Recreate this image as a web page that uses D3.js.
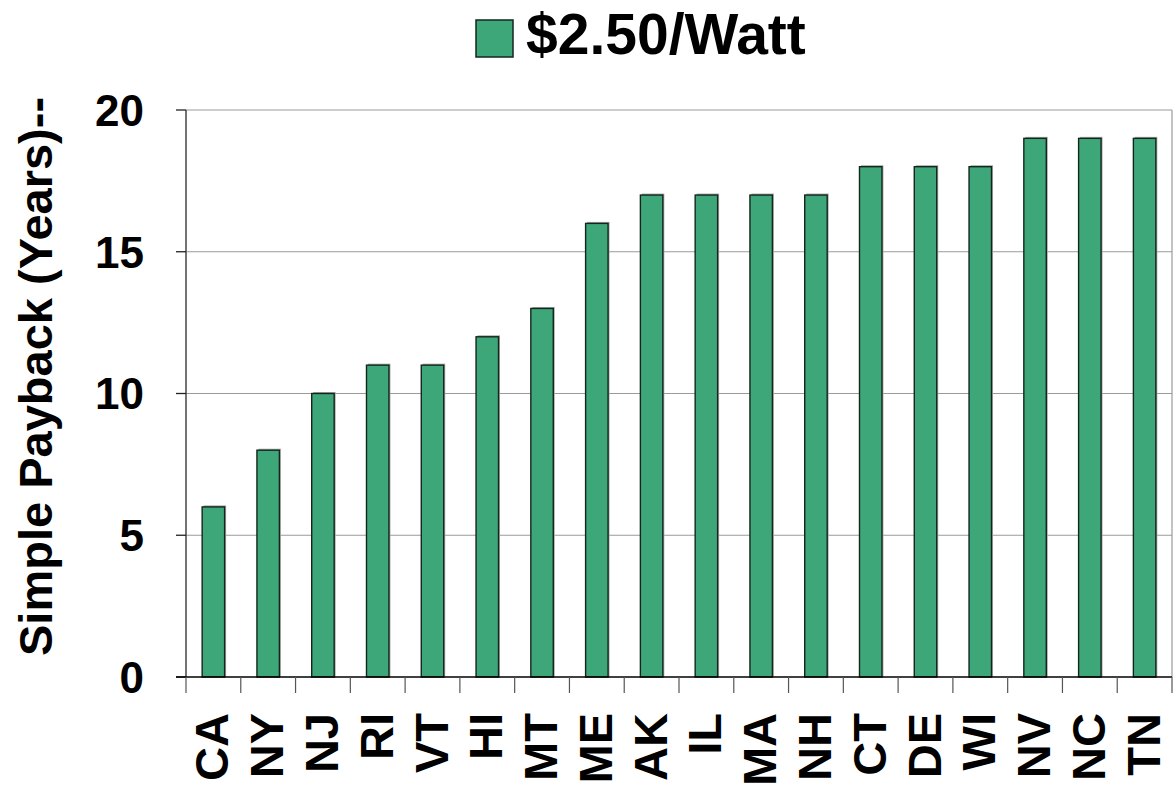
<!DOCTYPE html>
<html>
<head>
<meta charset="utf-8">
<script src="https://cdn.jsdelivr.net/npm/d3@7"></script>
<style>
  html, body { margin: 0; padding: 0; background: #fff; }
  svg { display: block; font-family: Arial, "Liberation Sans", sans-serif; font-weight: bold; }
</style>
</head>
<body>
<svg id="chart" width="1176" height="788"></svg>
<script>
const categories = ["CA","NY","NJ","RI","VT","HI","MT","ME","AK","IL","MA","NH","CT","DE","WI","NV","NC","TN"];
const paybackYears = [6, 8, 10, 11, 11, 12, 13, 16, 17, 17, 17, 17, 18, 18, 18, 19, 19, 19];
const yTicks = [0, 5, 10, 15, 20];
const seriesName = "$2.50/Watt";
const yTitle = "Simple Payback (Years)--";

(function () {
const svg = d3.select("#chart");
const pL = 186, pR = 1172, pT = 110, pB = 677;
const green = "#3EA77A", stroke = "#14261c";

const x = d3.scaleBand().domain(categories).range([pL, pR]).padding(0);
const y = d3.scaleLinear().domain([0, 20]).range([pB, pT]);

// gridlines
svg.append("g").selectAll("line").data(yTicks.filter(d => d > 0)).join("line")
  .attr("x1", pL).attr("x2", pR)
  .attr("y1", d => y(d)).attr("y2", d => y(d))
  .attr("stroke", "#9a9a9a").attr("stroke-width", 1.2);
// right border
svg.append("line").attr("x1", pR).attr("x2", pR).attr("y1", pT).attr("y2", pB)
  .attr("stroke", "#9a9a9a").attr("stroke-width", 1.2);

// bars
const bw = x.step() * 0.41;
const bars = svg.append("g");
bars.selectAll("rect.shadow").data(categories).join("rect")
  .attr("class", "shadow")
  .attr("x", d => x(d) + (x.step() - bw) / 2 + 1.5)
  .attr("y", (d, i) => y(paybackYears[i]) - 1.5)
  .attr("width", bw)
  .attr("height", (d, i) => pB - y(paybackYears[i]) + 1.5)
  .attr("fill", "#a8a8a8");
bars.selectAll("rect.bar").data(categories).join("rect")
  .attr("class", "bar")
  .attr("x", d => x(d) + (x.step() - bw) / 2)
  .attr("y", (d, i) => y(paybackYears[i]))
  .attr("width", bw)
  .attr("height", (d, i) => pB - y(paybackYears[i]))
  .attr("fill", green).attr("stroke", stroke).attr("stroke-width", 1.4);

// y axis
const yAxis = svg.append("g");
yAxis.append("line").attr("x1", pL).attr("x2", pL).attr("y1", pT).attr("y2", pB)
  .attr("stroke", "#444").attr("stroke-width", 1.5);
yAxis.selectAll("line.tick").data(yTicks).join("line").attr("class", "tick")
  .attr("x1", pL - 10).attr("x2", pL).attr("y1", d => y(d)).attr("y2", d => y(d))
  .attr("stroke", "#222").attr("stroke-width", 1.3);
yAxis.selectAll("text").data(yTicks).join("text")
  .attr("x", 144).attr("y", d => y(d)).attr("dy", "0.36em")
  .attr("text-anchor", "end").attr("font-size", 44).attr("fill", "#000")
  .text(d => d);

// x axis
const xAxis = svg.append("g");
xAxis.append("line").attr("x1", pL - 10).attr("x2", pR).attr("y1", pB).attr("y2", pB)
  .attr("stroke", "#000").attr("stroke-width", 1.5);
const boundaries = categories.map(c => x(c)).concat([pR]);
xAxis.selectAll("line.tick").data(boundaries).join("line").attr("class", "tick")
  .attr("x1", d => d).attr("x2", d => d).attr("y1", pB).attr("y2", pB + 16)
  .attr("stroke", "#555").attr("stroke-width", 1.2);
xAxis.selectAll("text").data(categories).join("text")
  .attr("transform", d => `translate(${x(d) + x.step() / 2 + 15},713) rotate(-90)`)
  .attr("text-anchor", "end").attr("font-size", 47).attr("fill", "#000")
  .text(d => d);

// y title
svg.append("text")
  .attr("transform", "translate(52,656) rotate(-90)")
  .attr("text-anchor", "start").attr("font-size", 47).attr("fill", "#000")
  .text(yTitle);

// legend
svg.append("rect").attr("x", 476).attr("y", 20).attr("width", 37).attr("height", 37)
  .attr("fill", green).attr("stroke", stroke).attr("stroke-width", 1.5);
svg.append("text").attr("x", 526).attr("y", 54)
  .attr("font-size", 57).attr("fill", "#000").text(seriesName);
})();
</script>
</body>
</html>
